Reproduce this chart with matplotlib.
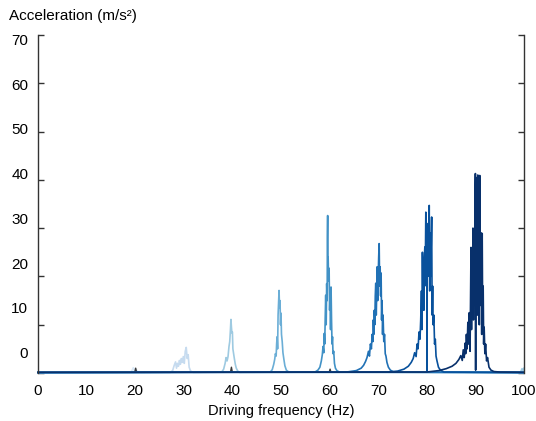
import numpy as np
import matplotlib.pyplot as plt

plt.rcParams["font.family"] = ["Liberation Sans", "DejaVu Sans"]

# spectra (Hz, m/s^2)
f20 = [0, 18.8, 19.2, 19.5, 19.6, 19.75, 19.9, 20.1, 20.3, 20.5, 20.8, 21.2, 100]
a20 = [0.1, 0.1, 0.3, 0.8, 1.1, 0.6, 0.9, 0.3, 0.6, 0.2, 0.3, 0.1, 0.1]

f30 = [0, 27.2, 27.7, 28.0, 28.3, 28.5, 28.7, 28.9, 29.1, 29.3, 29.5, 29.7, 29.9,
       30.1, 30.3, 30.5, 30.7, 30.9, 31.1, 31.4, 32.0, 100]
a30 = [0.1, 0.1, 0.5, 1.5, 2.3, 1.0, 2.0, 1.4, 2.6, 1.8, 3.0, 2.2, 3.4,
       2.0, 4.5, 5.3, 3.0, 3.8, 1.2, 0.4, 0.1, 0.1]

f40 = [0, 37.8, 38.2, 38.5, 38.7, 38.9, 39.1, 39.3, 39.45, 39.6, 39.7, 39.8, 39.9,
       40.0, 40.1, 40.25, 40.4, 40.6, 40.8, 41.1, 41.5, 99.3, 99.6, 99.8, 100]
a40 = [0.1, 0.2, 0.8, 2.0, 3.2, 2.5, 3.4, 5.5, 6.5, 9.0, 11.1, 9.5, 8.3,
       8.5, 5.0, 4.0, 3.0, 1.8, 1.0, 0.4, 0.1, 0.2, 0.9, 0.5, 1.0]

f50 = [0, 47.8, 48.2, 48.5, 48.7, 48.85, 49.0, 49.1, 49.2, 49.3, 49.4, 49.5, 49.6,
       49.7, 49.8, 49.9, 50.0, 50.1, 50.25, 50.4, 50.6, 50.8, 51.1, 51.6, 100]
a50 = [0.1, 0.2, 0.7, 1.8, 2.8, 4.0, 3.5, 6.0, 7.5, 5.0, 12.0, 14.5, 17.1,
       13.5, 15.0, 10.0, 12.4, 8.0, 6.5, 4.2, 2.8, 1.5, 0.6, 0.2, 0.1]

f60 = [0, 57.0, 57.6, 58.0, 58.3, 58.5, 58.65, 58.8, 58.9, 59.0,
       59.1, 59.2, 59.3, 59.4, 59.5, 59.55, 59.6, 59.65, 59.7, 59.8,
       59.9, 60.0, 60.1, 60.2, 60.3, 60.4, 60.5, 60.6, 60.7, 60.85,
       61.0, 61.2, 61.5, 62.0, 100]
a60 = [0.1, 0.2, 0.6, 1.2, 2.5, 3.8, 5.5, 4.2, 8.2, 6.0,
       11.5, 16.1, 10.0, 18.5, 15.0, 28.0, 32.6, 20.0, 24.0, 19.0,
       21.7, 13.0, 16.0, 9.0, 17.8, 11.0, 6.0, 7.5, 4.0, 4.5,
       2.0, 1.0, 0.5, 0.2, 0.1]

f70 = [0, 63.5, 65.5, 66.5, 67.0, 67.4, 67.7, 68.0, 68.2, 68.4,
       68.6, 68.75, 68.9, 69.0, 69.1, 69.2, 69.3, 69.4, 69.5, 69.6,
       69.7, 69.8, 69.9, 70.0, 70.1, 70.2, 70.3, 70.4, 70.5, 70.6,
       70.7, 70.8, 70.9, 71.0, 71.15, 71.3, 71.45, 71.6, 71.8, 72.1,
       72.5, 73.2, 100]
a70 = [0.1, 0.2, 0.5, 1.0, 1.6, 2.4, 3.2, 4.5, 3.5, 6.0,
       5.0, 8.0, 6.5, 11.0, 8.0, 13.0, 10.0, 16.0, 18.6, 12.0,
       17.0, 22.0, 15.0, 20.0, 24.0, 26.8, 18.0, 22.0, 16.0, 20.7,
       11.0, 15.0, 8.0, 12.0, 6.5, 8.0, 4.0, 3.5, 2.2, 1.2,
       0.6, 0.2, 0.1]

f80 = [0, 72, 74, 75.3, 76.2, 76.8, 77.2, 77.5, 77.8, 78.0,
       78.2, 78.4, 78.6, 78.75, 78.9, 79.0, 79.1, 79.2, 79.3, 79.4,
       79.5, 79.6, 79.7, 79.8, 79.9, 80.0, 80.05, 80.1, 80.2, 80.3,
       80.4, 80.5, 80.6, 80.7, 80.8, 80.9, 81.0, 81.1, 81.2, 81.3,
       81.45, 81.6, 81.75, 81.9, 82.1, 82.4, 82.8, 83.5, 100]
a80 = [0.1, 0.2, 0.4, 0.8, 1.4, 2.2, 3.0, 4.2, 3.4, 6.0,
       5.0, 8.5, 7.0, 11.0, 17.0, 9.0, 25.0, 15.0, 20.0, 13.0,
       24.0, 26.1, 22.0, 33.3, 18.0, 30.0, 0.5, 27.0, 20.0, 31.0,
       22.0, 34.7, 17.0, 29.0, 20.0, 26.0, 32.3, 12.0, 18.0, 10.0,
       12.0, 6.0, 7.0, 3.5, 2.5, 1.2, 0.6, 0.2, 0.1]

f90 = [0, 80, 82.5, 84, 85.2, 86.0, 86.6, 87.0, 87.3, 87.5,
       87.7, 87.9, 88.0, 88.15, 88.3, 88.45, 88.6, 88.75, 88.9, 89.0,
       89.1, 89.2, 89.3, 89.4, 89.5, 89.6, 89.7, 89.8, 89.9, 90.0,
       90.05, 90.1, 90.2, 90.3, 90.4, 90.5, 90.6, 90.7, 90.8, 90.9,
       91.0, 91.1, 91.2, 91.3, 91.4, 91.5, 91.6, 91.7, 91.8, 91.95,
       92.1, 92.3, 92.5, 92.8, 93.2, 93.8, 95, 100]
a90 = [0.15, 0.2, 0.5, 0.9, 1.4, 2.0, 2.8, 3.6, 2.6, 4.8,
       3.2, 6.2, 4.0, 8.0, 5.0, 10.5, 6.0, 12.5, 4.5, 15.0,
       26.0, 9.0, 22.0, 13.0, 30.0, 11.0, 24.0, 18.0, 33.0, 41.3,
       0.6, 40.5, 16.0, 35.0, 12.0, 41.0, 20.0, 38.0, 10.0, 40.9,
       25.0, 14.0, 29.0, 8.0, 28.9, 10.0, 18.0, 6.0, 9.5, 4.0,
       6.0, 2.5, 3.2, 1.2, 0.6, 0.3, 0.2, 0.15]

# small dark harmonic marks near the baseline
f_harm = [19.9, 20.1, 20.3, 39.6, 39.8, 40.0, 59.9, 60.1, 60.3]
a_harm = [0.1, 1.0, 0.1, 0.1, 1.2, 0.1, 0.1, 0.8, 0.1]

spectra = [(f20, a20), (f30, a30), (f40, a40), (f50, a50),
           (f60, a60), (f70, a70), (f80, a80), (f90, a90)]
colors = ["#dbe9f6", "#c6dbef", "#9ecae1", "#6baed6",
          "#4292c6", "#2171b5", "#08519c", "#08306b"]

yticks = [0, 10, 20, 30, 40, 50, 60, 70]
xticks = [0, 10, 20, 30, 40, 50, 60, 70, 80, 90, 100]

fig = plt.figure(figsize=(5.36, 4.21), dpi=100)
ax = fig.add_axes([0.0709, 0.114, 0.9067, 0.8029])

for (f, a), c in zip(spectra, colors):
    ax.plot(f, a, color=c, lw=1.2, clip_on=False)
    if c == "#6baed6":
        for hf in range(0, len(f_harm), 3):
            ax.plot(f_harm[hf:hf + 3], a_harm[hf:hf + 3], color="#3a3a3a", lw=1.0)

ax.set_xlim(0, 100)
ax.set_ylim(0, 70)

for side in ["top", "bottom"]:
    ax.spines[side].set_visible(False)
for side in ["left", "right"]:
    ax.spines[side].set_color("#333333")
    ax.spines[side].set_linewidth(1.0)

ax.set_xticks(xticks)
ax.set_xticklabels([str(v) for v in xticks], fontsize=11)
ax.tick_params(axis="x", length=0, pad=8)

ax.set_yticks(yticks)
ax.set_yticklabels([])
ax.tick_params(axis="y", direction="in", length=4, width=1.0, color="#333333",
               left=True, right=True)

# y tick labels sit slightly off their ticks in the reference
label_pos = np.linspace(3.9, 68.8, len(yticks))
for v, p in zip(yticks, label_pos):
    ax.text(-0.02, p, str(v), transform=ax.get_yaxis_transform(),
            ha="right", va="center", fontsize=11)

ax.set_xlabel("Driving frequency (Hz)", fontsize=10.5, labelpad=4)
fig.text(9 / 536, 1 - 16 / 421, "Acceleration (m/s²)", ha="left", va="center",
         fontsize=11)

fig.savefig("out.png", dpi=100)
